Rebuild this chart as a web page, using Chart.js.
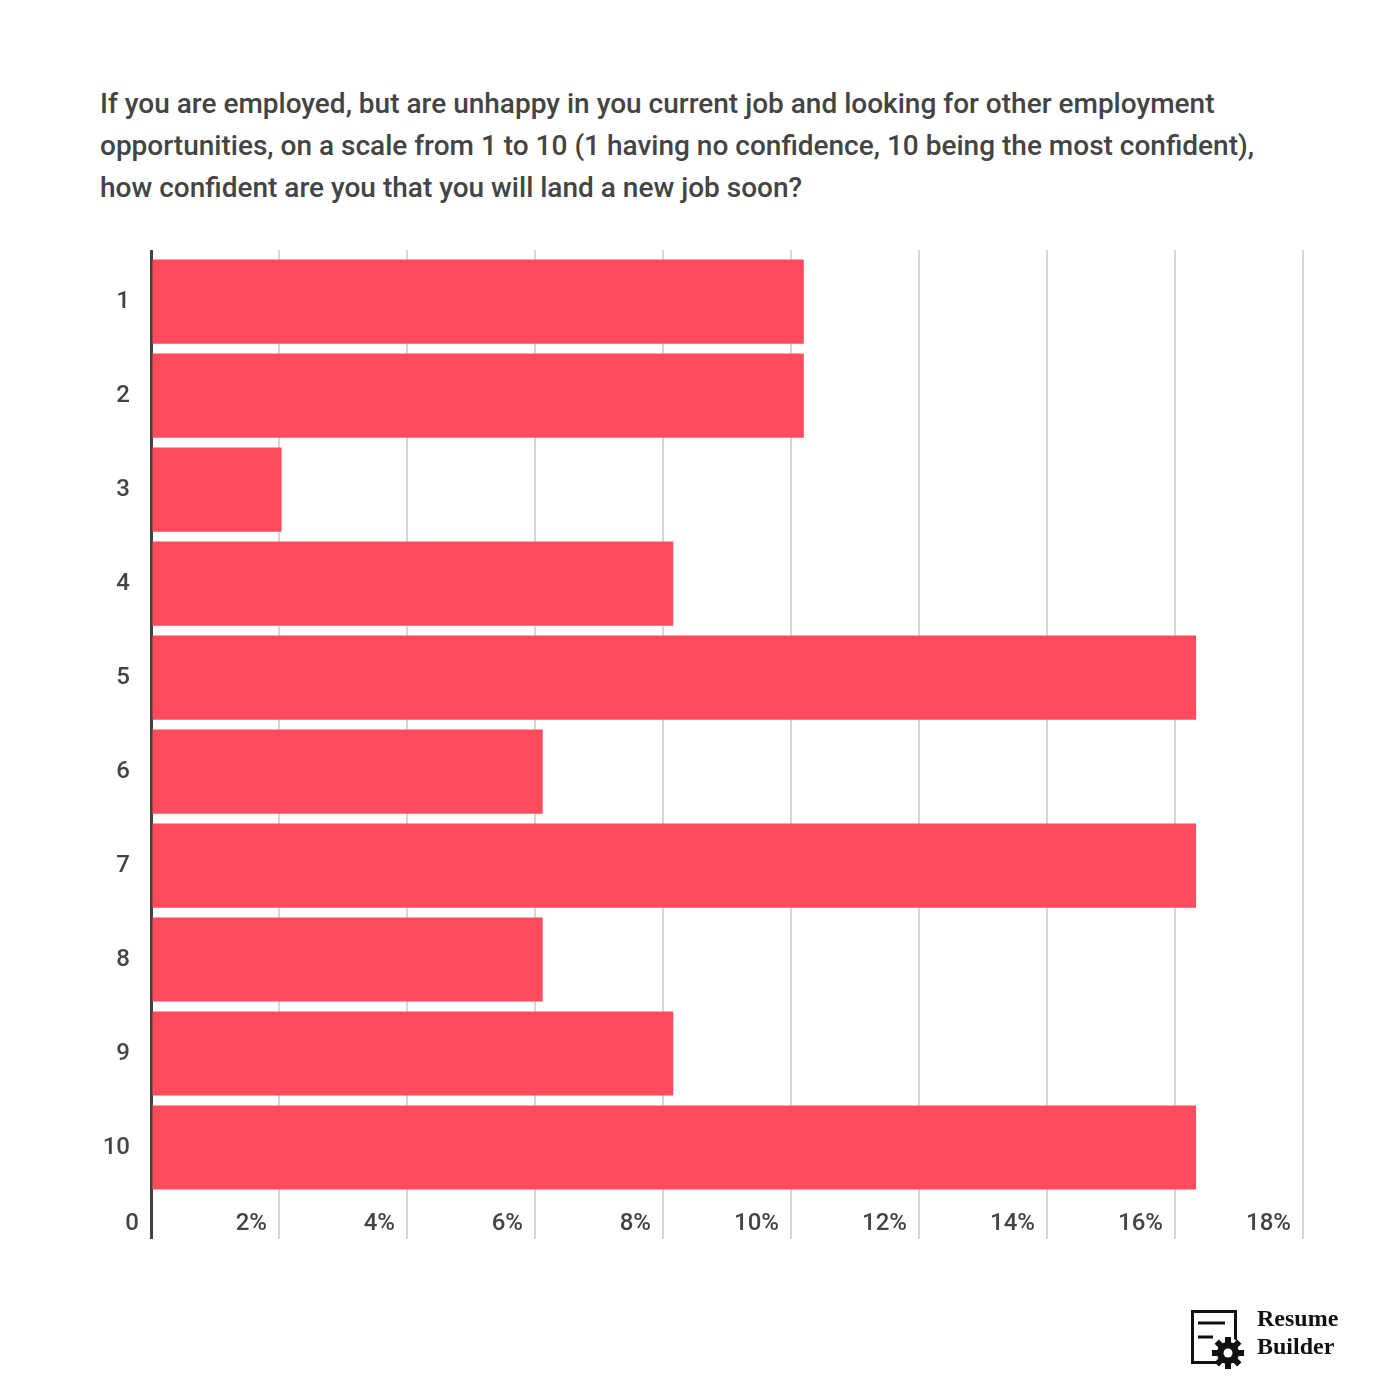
<!DOCTYPE html>
<html>
<head>
<meta charset="utf-8">
<script src="https://cdn.jsdelivr.net/npm/chart.js@4"></script>
<style>
  html, body { margin: 0; padding: 0; background: #fff; }
  #wrap { position: relative; width: 1400px; height: 1400px; }
  #title {
    position: absolute; left: 100px; top: 83px; width: 1185px;
    font-family: Roboto, sans-serif; font-size: 28px; font-weight: 500;
    line-height: 42px; color: #444;
  }
  canvas { position: absolute; left: 0; top: 0; }
  #logo { position: absolute; left: 1188px; top: 1306px; }
  #logo .txt {
    position: absolute; left: 69px; top: -2px; white-space: nowrap;
    font-family: "Liberation Serif", serif; font-weight: bold; font-size: 24px;
    line-height: 28px; color: #111;
  }
</style>
</head>
<body>
<div id="wrap">
  <div id="title">If you are employed, but are unhappy in you current job and looking for other employment opportunities, on a scale from 1 to 10 (1 having no confidence, 10 being the most confident), how confident are you that you will land a new job soon?</div>
  <canvas id="chart" width="1400" height="1400"></canvas>
  <div id="logo">
    <svg width="64" height="64" viewBox="0 0 64 64">
      <rect x="4.5" y="5.5" width="43" height="51" fill="none" stroke="#111" stroke-width="3"/>
      <line x1="10" y1="17" x2="37" y2="17" stroke="#111" stroke-width="3"/>
      <line x1="10" y1="31" x2="25" y2="31" stroke="#111" stroke-width="3"/>
      <g transform="translate(40,47)">
        <circle r="15" fill="#fff"/>
        <circle r="11" fill="#111"/>
        <g fill="#111">
          <rect x="-3" y="-16" width="6" height="32"/>
          <rect x="-3" y="-16" width="6" height="32" transform="rotate(45)"/>
          <rect x="-3" y="-16" width="6" height="32" transform="rotate(90)"/>
          <rect x="-3" y="-16" width="6" height="32" transform="rotate(135)"/>
        </g>
        <circle r="4.5" fill="#fff"/>
      </g>
    </svg>
    <div class="txt">Resume<br>Builder</div>
  </div>
</div>
<script>
// confidence scale 1..10, share of respondents (%)
var categories = ['1', '2', '3', '4', '5', '6', '7', '8', '9', '10'];
var shares = [10.2, 10.2, 2.04, 8.16, 16.33, 6.12, 16.33, 6.12, 8.16, 16.33];
var xMax = 18;
var xStep = 2;

// y is a linear index axis so the x labels can sit in a strip under the last bar
var points = shares.map(function (v, i) { return { x: v, y: i + 1 }; });

var ctx = document.getElementById('chart').getContext('2d');
var chart = new Chart(ctx, {
    type: 'bar',
    data: {
        datasets: [{
            data: points,
            backgroundColor: '#ff4b5b',
            borderWidth: 0,
            barPercentage: 0.895,
            categoryPercentage: 1.0
        }]
    },
    options: {
        indexAxis: 'y',
        responsive: false,
        devicePixelRatio: 1,
        animation: false,
        layout: {
            padding: { top: 250, right: 97, bottom: 159, left: 0 }
        },
        plugins: {
            legend: { display: false },
            tooltip: { enabled: false }
        },
        scales: {
            x: {
                type: 'linear',
                min: 0,
                max: xMax,
                border: { display: false },
                grid: {
                    drawTicks: false,
                    color: function (c) { return c.tick && c.tick.value === 0 ? '#444' : '#d6d6d6'; },
                    lineWidth: function (c) { return c.tick && c.tick.value === 0 ? 3 : 2; }
                },
                ticks: {
                    stepSize: xStep,
                    autoSkip: false,
                    maxRotation: 0,
                    mirror: true,
                    align: 'end',
                    labelOffset: -12,
                    padding: 1,
                    color: '#444',
                    font: { family: 'Roboto', size: 24, weight: '500' },
                    callback: function (v) { return v === 0 ? '0' : v + '%'; }
                }
            },
            y: {
                type: 'linear',
                reverse: true,
                offset: false,
                min: 0.451,
                max: 10.973,
                afterBuildTicks: function (scale) {
                    scale.ticks = categories.map(function (c, i) { return { value: i + 1 }; });
                },
                afterFit: function (scale) { scale.width = 151; },
                border: { display: false },
                grid: { display: false, drawTicks: false, offset: false },
                ticks: {
                    autoSkip: false,
                    padding: 21,
                    color: '#444',
                    font: { family: 'Roboto', size: 24, weight: '500' },
                    callback: function (v) { return categories[v - 1]; }
                }
            }
        }
    }
});
</script>
</body>
</html>
